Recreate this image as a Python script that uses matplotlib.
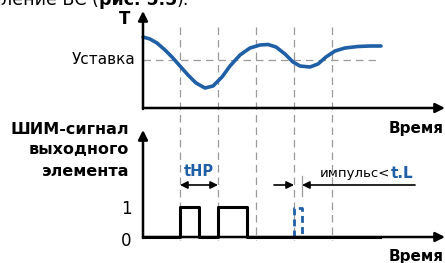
import matplotlib.pyplot as plt

# temperature curve (time, T), in pixel-like units
curve_t = [143, 150, 157, 165, 172, 180, 188, 196, 205, 213, 222, 230, 240,
           250, 260, 268, 276, 285, 293, 300, 310, 318, 326, 335, 345, 358,
           370, 381]
curve_T = [37, 39, 43, 50, 57, 66, 75, 83, 88, 86, 77, 66, 55,
           48, 45, 44.5, 47, 54, 62, 66, 67, 64, 57, 51, 48, 46.5,
           46, 46]
setpoint = 60

grid_t = [180, 218, 256, 294, 332]
pwm_t = [143, 180, 180, 199, 199, 218, 218, 247, 247, 380]
pwm_v = [237, 237, 207, 207, 237, 237, 207, 207, 237, 237]
short_t = [294, 294, 302, 302]
short_v = [237, 208, 208, 237]

BLUE = '#1f5fa6'
GRAY = '#9a9a9a'
FONT = ['DejaVu Sans']

fig = plt.figure(figsize=(4.45, 2.63), dpi=100)
ax = fig.add_axes([0, 0, 1, 1])
ax.set_xlim(0, 445)
ax.set_ylim(263, 0)
ax.axis('off')

def arrow(x0, y0, x1, y1, lw=1.6, scale=12, color='black'):
    ax.annotate('', xy=(x1, y1), xytext=(x0, y0),
                arrowprops=dict(arrowstyle='-|>', color=color, lw=lw,
                                mutation_scale=scale, shrinkA=0, shrinkB=0))

# grid lines
for t in grid_t:
    ax.plot([t, t], [27, 240], color=GRAY, lw=0.9, ls=(0, (6, 4)))
ax.plot([143, 380], [setpoint, setpoint], color=GRAY, lw=0.9, ls=(0, (6, 4)))
ax.plot([302, 302], [176, 196], color=GRAY, lw=0.9)

# axes with arrows
arrow(143, 109, 143, 11, lw=1.8, scale=14)
arrow(143, 108, 445, 108, lw=1.8, scale=14)
arrow(143, 238, 143, 130, lw=1.8, scale=14)
arrow(143, 237, 445, 237, lw=1.8, scale=14)

# curve
ax.plot(curve_t, curve_T, color=BLUE, lw=2.6, solid_capstyle='round')

# pwm
ax.plot(pwm_t, pwm_v, color='black', lw=2.2)
ax.plot(short_t, short_v, color=BLUE, lw=2, ls=(0, (2.5, 1.5)))

# tHP arrow
ax.annotate('', xy=(180, 185), xytext=(218, 185),
            arrowprops=dict(arrowstyle='<|-|>', color='black', lw=1.2,
                            mutation_scale=11, shrinkA=0, shrinkB=0))
arrow(274, 185, 294, 185, lw=1.2, scale=11)
arrow(415, 185, 302, 185, lw=1.2, scale=11)

# texts (top line is cut by the image edge)
t1 = ax.text(1, 5, 'ление ВС (', fontsize=12.5, family=FONT, va='baseline')
t2 = ax.annotate('рис. 5.5', xy=(1, 0), xycoords=t1, fontsize=12.5, family=FONT,
                 weight='bold', va='bottom')
ax.annotate('):', xy=(1, 0), xycoords=t2, fontsize=12.5, family=FONT, va='bottom')
ax.text(125, 19, 'T', fontsize=12, family=FONT, weight='bold', ha='center', va='center')
ax.text(135, 59, 'Уставка', fontsize=11, family=FONT, ha='right', va='center')
ax.text(444, 128, 'Время', fontsize=11, family=FONT, weight='bold', ha='right', va='center')
ax.text(444, 256, 'Время', fontsize=11, family=FONT, weight='bold', ha='right', va='center')
ax.text(129, 129, 'ШИМ-сигнал', fontsize=11.5, family=FONT, weight='bold', ha='right', va='center')
ax.text(129, 150, 'выходного', fontsize=11.5, family=FONT, weight='bold', ha='right', va='center')
ax.text(129, 171, 'элемента', fontsize=11.5, family=FONT, weight='bold', ha='right', va='center')
ax.text(199, 172, 'tHP', fontsize=10.5, family=FONT, weight='bold', color=BLUE, ha='center', va='center')
t3 = ax.text(320, 173, 'импульс<', fontsize=9.5, family=FONT, ha='left', va='center')
ax.annotate('t.L', xy=(1, 0.5), xycoords=t3, fontsize=11, family=FONT, weight='bold',
            color=BLUE, ha='left', va='center')
ax.text(126, 209, '1', fontsize=12, family=FONT, ha='center', va='center')
ax.text(126, 241, '0', fontsize=12, family=FONT, ha='center', va='center')

fig.savefig('out.png', dpi=100)
